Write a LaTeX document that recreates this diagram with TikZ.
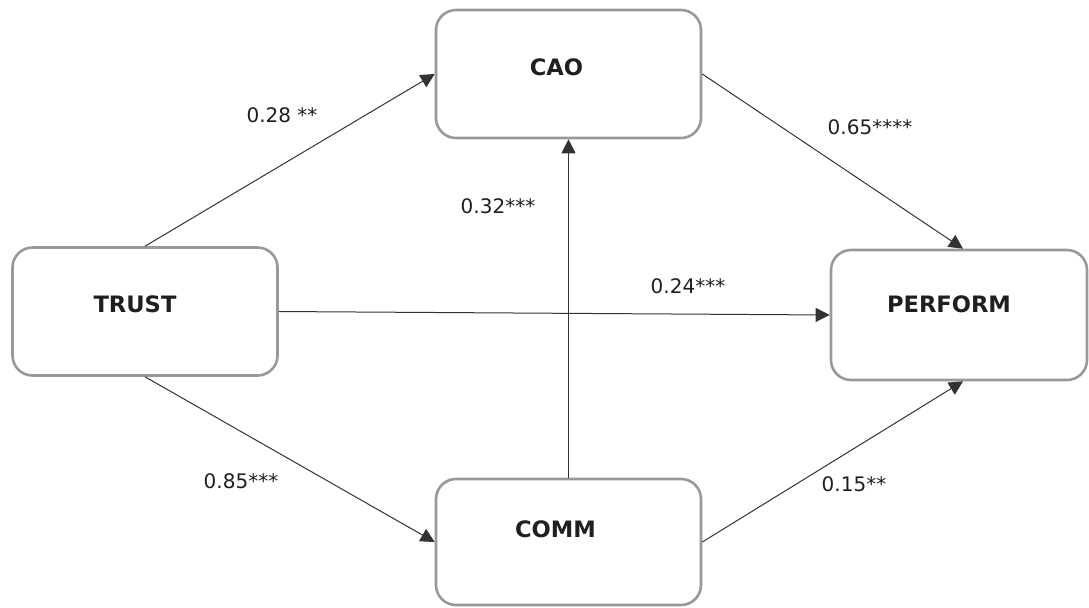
\documentclass[tikz,border=0pt]{standalone}
\usepackage{fontspec}
\setmainfont{DejaVu Sans}
\usetikzlibrary{arrows.meta}

\begin{document}
\begin{tikzpicture}[x=0.5pt, y=-0.5pt,
  var/.style={rectangle, rounded corners=10pt, draw=gray!80, line width=1.3pt, minimum width=132.5pt, minimum height=64pt, inner sep=0pt},
  varname/.style={font=\fontsize{11.3}{13}\selectfont\bfseries, text=black!88},
  coef/.style={font=\fontsize{10}{12}\selectfont, text=black!88, inner sep=0pt},
  path/.style={-{Triangle[width=7pt,length=7pt]}, draw=black!80, line width=0.5pt}]
  \useasboundingbox (0,0) rectangle (1089,607);

  \node[var, label={[varname, shift={(-6pt,3.5pt)}]center:CAO}] (cao) at (568.5,74) {};
  \node[var, label={[varname, shift={(-5pt,3.5pt)}]center:TRUST}] (trust) at (145,311.5) {};
  \node[var, minimum width=128pt, minimum height=65pt, label={[varname, shift={(-5pt,5.5pt)}]center:PERFORM}] (perform) at (959,315) {};
  \node[var, minimum height=63pt, label={[varname, shift={(-6.5pt,6.5pt)}]center:COMM}] (comm) at (568.5,542) {};

  \draw[path] (trust.north) -- (cao.west);
  \draw[path] (cao.east) -- ([xshift=2pt]perform.north);
  \draw[path] (comm.north) -- (cao.south);
  \draw[path] (trust.east) -- (perform.west);
  \draw[path] (trust.south) -- (comm.west);
  \draw[path] (comm.east) -- ([xshift=2pt]perform.south);

  % path coefficients
  \node[coef] (c1) at (282,115) {0.28 **};
  \node[coef] (c2) at (870,127) {0.65****};
  \node[coef] (c3) at (498,206) {0.32***};
  \node[coef] (c4) at (688,286) {0.24***};
  \node[coef] (c5) at (241,481) {0.85***};
  \node[coef] (c6) at (854,484) {0.15**};
\end{tikzpicture}
\end{document}
